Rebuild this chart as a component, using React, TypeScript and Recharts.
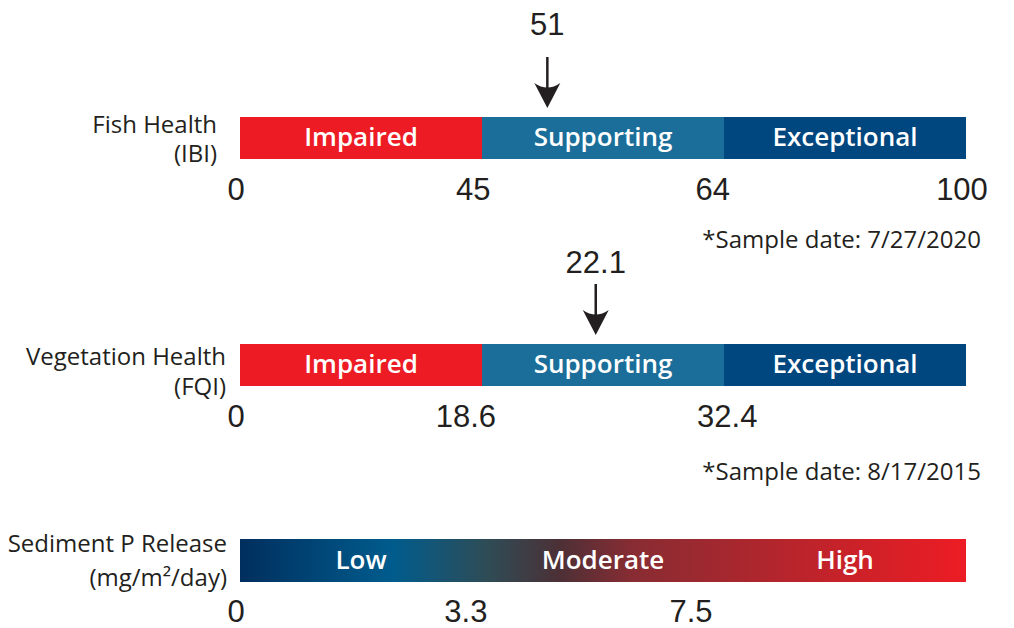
import { Bar, BarChart, ReferenceDot, XAxis, YAxis } from "recharts";

// zones are equal-width bands on the gauge (units: zone index)
const zoneNames = ["Impaired", "Supporting", "Exceptional"];
const zoneWidths = [1, 1, 1];
const zoneColors = ["#ED1C24", "#1A6E99", "#00467F"];

const fishLabel = ["Fish Health", "(IBI)"];
const fishTicks = ["0", "45", "64", "100"];
const fishTickAt = [0, 0.98, 1.97, 3];
const fishValue = "51";
const fishValueAt = 1.27;
const fishDate = "*Sample date: 7/27/2020";

const vegLabel = ["Vegetation Health", "(FQI)"];
const vegTicks = ["0", "18.6", "32.4"];
const vegTickAt = [0, 0.95, 2.03];
const vegValue = "22.1";
const vegValueAt = 1.47;
const vegDate = "*Sample date: 8/17/2015";

const sedLabel = ["Sediment P Release", "(mg/m²/day)"];
const sedZones = ["Low", "Moderate", "High"];
const sedTicks = ["0", "3.3", "7.5"];
const sedTickAt = [0, 0.95, 1.88];
const sedStops = [
  { offset: 0, color: "#002F5E" },
  { offset: 0.21, color: "#005C8D" },
  { offset: 0.34, color: "#2E4C56" },
  { offset: 0.44, color: "#4C3036" },
  { offset: 0.54, color: "#882C33" },
  { offset: 1, color: "#ED1C24" },
];

const W = 1014;
const PLOT_LEFT = 240;
const PLOT_RIGHT = 966;
const ink = "#231F20";
const numFont = "'Liberation Sans', Arial, sans-serif";
const textFont = "'Open Sans', sans-serif";

type GaugeProps = {
  top: number;
  height: number;
  barTop: number;
  barHeight: number;
  label: string[];
  labelGap: number;
  labelDy: [number, number];
  zones: string[];
  colors: string[];
  ticks: string[];
  tickAt: number[];
  tickDy: number;
  value?: string;
  valueAt?: number;
  valueDy?: number;
  gradient?: boolean;
};

function Arrow({ cx, cy, text, textDy }: any) {
  const tip = cy - 30;
  const tail = cy - 81;
  return (
    <g>
      <text x={cx} y={cy + textDy} textAnchor="middle" fontFamily={numFont} fontSize={31} fill={ink}>
        {text}
      </text>
      <line x1={cx} x2={cx} y1={tail} y2={tip - 12} stroke={ink} strokeWidth={2.5} />
      <path
        d={`M${cx},${tip} L${cx - 13},${tip - 25} Q${cx},${tip - 16} ${cx + 13},${tip - 25} Z`}
        fill={ink}
      />
    </g>
  );
}

function Gauge(p: GaugeProps) {
  const row: Record<string, any> = { row: "r" };
  p.zones.forEach((z, i) => (row[z] = zoneWidths[i]));
  const labelMap = new Map(p.tickAt.map((t, i) => [t, p.ticks[i]]));
  const bottom = p.height - p.barTop - p.barHeight - 50;

  return (
    <div style={{ position: "absolute", left: 0, top: p.top }}>
      <BarChart
        width={W}
        height={p.height}
        data={[row]}
        layout="vertical"
        barCategoryGap={0}
        margin={{ top: p.barTop, right: W - PLOT_RIGHT, left: 0, bottom }}
      >
        <defs>
          <linearGradient id="sedGrad" gradientUnits="userSpaceOnUse" x1={PLOT_LEFT} x2={PLOT_RIGHT} y1={0} y2={0}>
            {sedStops.map((s) => (
              <stop key={s.offset} offset={s.offset} stopColor={s.color} />
            ))}
          </linearGradient>
        </defs>
        <XAxis
          type="number"
          domain={[0, 3]}
          ticks={p.tickAt}
          interval={0}
          height={50}
          tickLine={false}
          axisLine={false}
          tickSize={0}
          tickMargin={0}
          tick={({ x, y, payload }: any) => (
            <text x={x - 4} y={y + p.tickDy} textAnchor="middle" fontFamily={numFont} fontSize={31} fill={ink}>
              {labelMap.get(payload.value)}
            </text>
          )}
        />
        <YAxis
          type="category"
          dataKey="row"
          width={PLOT_LEFT}
          tickLine={false}
          axisLine={false}
          tickSize={0}
          tickMargin={p.labelGap}
          tick={({ x, y }: any) => (
            <text x={x} y={y} textAnchor="end" fontFamily={textFont} fontSize={24} fill={ink}>
              <tspan x={x} dy={p.labelDy[0]}>
                {p.label[0]}
              </tspan>
              <tspan x={x} dy={p.labelDy[1] - p.labelDy[0]}>
                {p.label[1]}
              </tspan>
            </text>
          )}
        />
        {p.zones.map((z, i) => (
          <Bar
            key={z}
            dataKey={z}
            stackId="g"
            fill={p.gradient ? "url(#sedGrad)" : p.colors[i]}
            isAnimationActive={false}
            label={({ x, y, width, height }: any) => (
              <text
                x={x + width / 2}
                y={y + height / 2}
                dy="0.32em"
                textAnchor="middle"
                fontFamily={textFont}
                fontWeight={600}
                fontSize={26}
                fill="#FFFFFF"
              >
                {z}
              </text>
            )}
          />
        ))}
        {p.value !== undefined && (
          <ReferenceDot
            x={p.valueAt}
            y="r"
            ifOverflow="visible"
            shape={(s: any) => <Arrow cx={s.cx} cy={s.cy} text={p.value} textDy={p.valueDy} />}
          />
        )}
      </BarChart>
    </div>
  );
}

const dateStyle: React.CSSProperties = {
  position: "absolute",
  right: W - 981,
  fontFamily: textFont,
  fontSize: 24,
  lineHeight: "24px",
  color: ink,
  whiteSpace: "nowrap",
};

export default function App() {
  return (
    <div style={{ position: "absolute", left: 0, top: 0, width: W, height: 628, background: "#fff", overflow: "hidden" }}>
      <Gauge
        top={0}
        height={215}
        barTop={117}
        barHeight={42}
        label={fishLabel}
        labelGap={23}
        labelDy={[-5, 24]}
        zones={zoneNames}
        colors={zoneColors}
        ticks={fishTicks}
        tickAt={fishTickAt}
        tickDy={41}
        value={fishValue}
        valueAt={fishValueAt}
        valueDy={-103}
      />
      <div style={{ ...dateStyle, top: 227 }}>{fishDate}</div>
      <Gauge
        top={215}
        height={285}
        barTop={129}
        barHeight={42}
        label={vegLabel}
        labelGap={14}
        labelDy={[0, 30]}
        zones={zoneNames}
        colors={zoneColors}
        ticks={vegTicks}
        tickAt={vegTickAt}
        tickDy={41}
        value={vegValue}
        valueAt={vegValueAt}
        valueDy={-92}
      />
      <div style={{ ...dateStyle, top: 459 }}>{vegDate}</div>
      <Gauge
        top={500}
        height={128}
        barTop={39}
        barHeight={43}
        label={sedLabel}
        labelGap={13}
        labelDy={[-9, 25]}
        zones={sedZones}
        colors={zoneColors}
        ticks={sedTicks}
        tickAt={sedTickAt}
        tickDy={40}
        gradient
      />
    </div>
  );
}
